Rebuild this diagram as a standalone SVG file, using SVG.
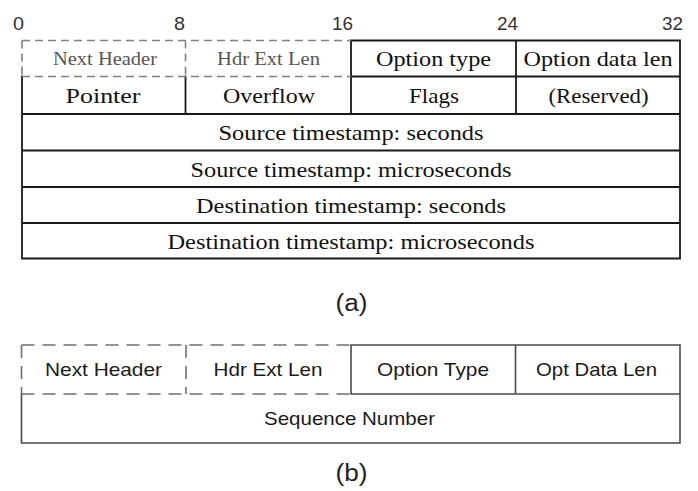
<svg xmlns="http://www.w3.org/2000/svg" width="698" height="491" viewBox="0 0 698 491">
<style>
.solidA{fill:none;stroke:#1a1a1a;stroke-width:1.8;stroke-linecap:square}
.dashA{fill:none;stroke:#808080;stroke-width:1.6;stroke-dasharray:8 5}
.solidB{fill:none;stroke:#4a4a4a;stroke-width:1.6;stroke-linecap:square}
.dashB{fill:none;stroke:#707070;stroke-width:1.6;stroke-dasharray:13 8}
.tm{font-family:"Liberation Serif","Times New Roman",serif;font-size:22px;fill:#111;text-anchor:middle}
.tmg{font-family:"Liberation Serif","Times New Roman",serif;font-size:18.5px;fill:#555;text-anchor:middle}
.ar{font-family:"Liberation Sans",Arial,sans-serif;font-size:18.5px;fill:#1a1a1a;text-anchor:middle}
.ax{font-family:"Liberation Sans",Arial,sans-serif;font-size:18.5px;fill:#333;text-anchor:end}
.cap{font-family:"Liberation Sans",Arial,sans-serif;font-size:23px;fill:#222;text-anchor:middle}
</style>
<rect width="698" height="491" fill="#fff"/>

<g id="axis">
<text class="ax" x="24" y="30" textLength="11" lengthAdjust="spacingAndGlyphs">0</text>
<text class="ax" x="185" y="30" textLength="11" lengthAdjust="spacingAndGlyphs">8</text>
<text class="ax" x="353" y="30" textLength="21" lengthAdjust="spacingAndGlyphs">16</text>
<text class="ax" x="518" y="30" textLength="21" lengthAdjust="spacingAndGlyphs">24</text>
<text class="ax" x="683" y="30" textLength="21" lengthAdjust="spacingAndGlyphs">32</text>
</g>

<g id="connectors">
<path class="solidA" d="M351 40.5H680V258.5H22V76.5 M351 76.5H680 M22 114H680 M22 150.5H680 M22 187H680 M22 223H680 M185.5 76.5V114 M351 40.5V114 M516 40.5V114"/>
<path class="dashA" d="M22 40.5H351 M22 76.5H351 M22 40.5V76.5 M185.5 40.5V76.5"/>
<path class="solidB" d="M351 345H680V443H21.5V394 M351 394H680 M351 345V394 M515.5 345V394"/>
<path class="dashB" d="M21.5 345H351 M21.5 394H351 M21.5 345V394 M186 345V394"/>
</g>

<g id="a-next-header"><text class="tmg" x="105" y="64.5" textLength="104" lengthAdjust="spacingAndGlyphs">Next Header</text></g>
<g id="a-hdr-ext-len"><text class="tmg" x="268.5" y="64.5" textLength="103" lengthAdjust="spacingAndGlyphs">Hdr Ext Len</text></g>
<g id="a-option-type"><text class="tm" x="433.5" y="65.5" textLength="115" lengthAdjust="spacingAndGlyphs">Option type</text></g>
<g id="a-option-data-len"><text class="tm" x="598" y="65.5" textLength="149" lengthAdjust="spacingAndGlyphs">Option data len</text></g>
<g id="a-pointer"><text class="tm" x="103" y="102.5" textLength="75" lengthAdjust="spacingAndGlyphs">Pointer</text></g>
<g id="a-overflow"><text class="tm" x="269" y="102.5" textLength="92" lengthAdjust="spacingAndGlyphs">Overflow</text></g>
<g id="a-flags"><text class="tm" x="434" y="102.5" textLength="50" lengthAdjust="spacingAndGlyphs">Flags</text></g>
<g id="a-reserved"><text class="tm" x="598.5" y="102.5" textLength="100" lengthAdjust="spacingAndGlyphs">(Reserved)</text></g>
<g id="a-src-sec"><text class="tm" x="351" y="140" textLength="265" lengthAdjust="spacingAndGlyphs">Source timestamp: seconds</text></g>
<g id="a-src-usec"><text class="tm" x="351" y="176.5" textLength="321" lengthAdjust="spacingAndGlyphs">Source timestamp: microseconds</text></g>
<g id="a-dst-sec"><text class="tm" x="351" y="212.5" textLength="310" lengthAdjust="spacingAndGlyphs">Destination timestamp: seconds</text></g>
<g id="a-dst-usec"><text class="tm" x="351" y="248.5" textLength="367" lengthAdjust="spacingAndGlyphs">Destination timestamp: microseconds</text></g>

<g id="caption-a"><text class="cap" x="351.5" y="311" textLength="32" lengthAdjust="spacingAndGlyphs">(a)</text></g>

<g id="b-next-header"><text class="ar" x="103.5" y="376" textLength="117" lengthAdjust="spacingAndGlyphs">Next Header</text></g>
<g id="b-hdr-ext-len"><text class="ar" x="268" y="376" textLength="109" lengthAdjust="spacingAndGlyphs">Hdr Ext Len</text></g>
<g id="b-option-type"><text class="ar" x="433" y="376" textLength="112" lengthAdjust="spacingAndGlyphs">Option Type</text></g>
<g id="b-opt-data-len"><text class="ar" x="596.5" y="376" textLength="121" lengthAdjust="spacingAndGlyphs">Opt Data Len</text></g>
<g id="b-sequence-number"><text class="ar" x="349.5" y="425" textLength="171" lengthAdjust="spacingAndGlyphs">Sequence Number</text></g>

<g id="caption-b"><text class="cap" x="351.5" y="481" textLength="32" lengthAdjust="spacingAndGlyphs">(b)</text></g>
</svg>
